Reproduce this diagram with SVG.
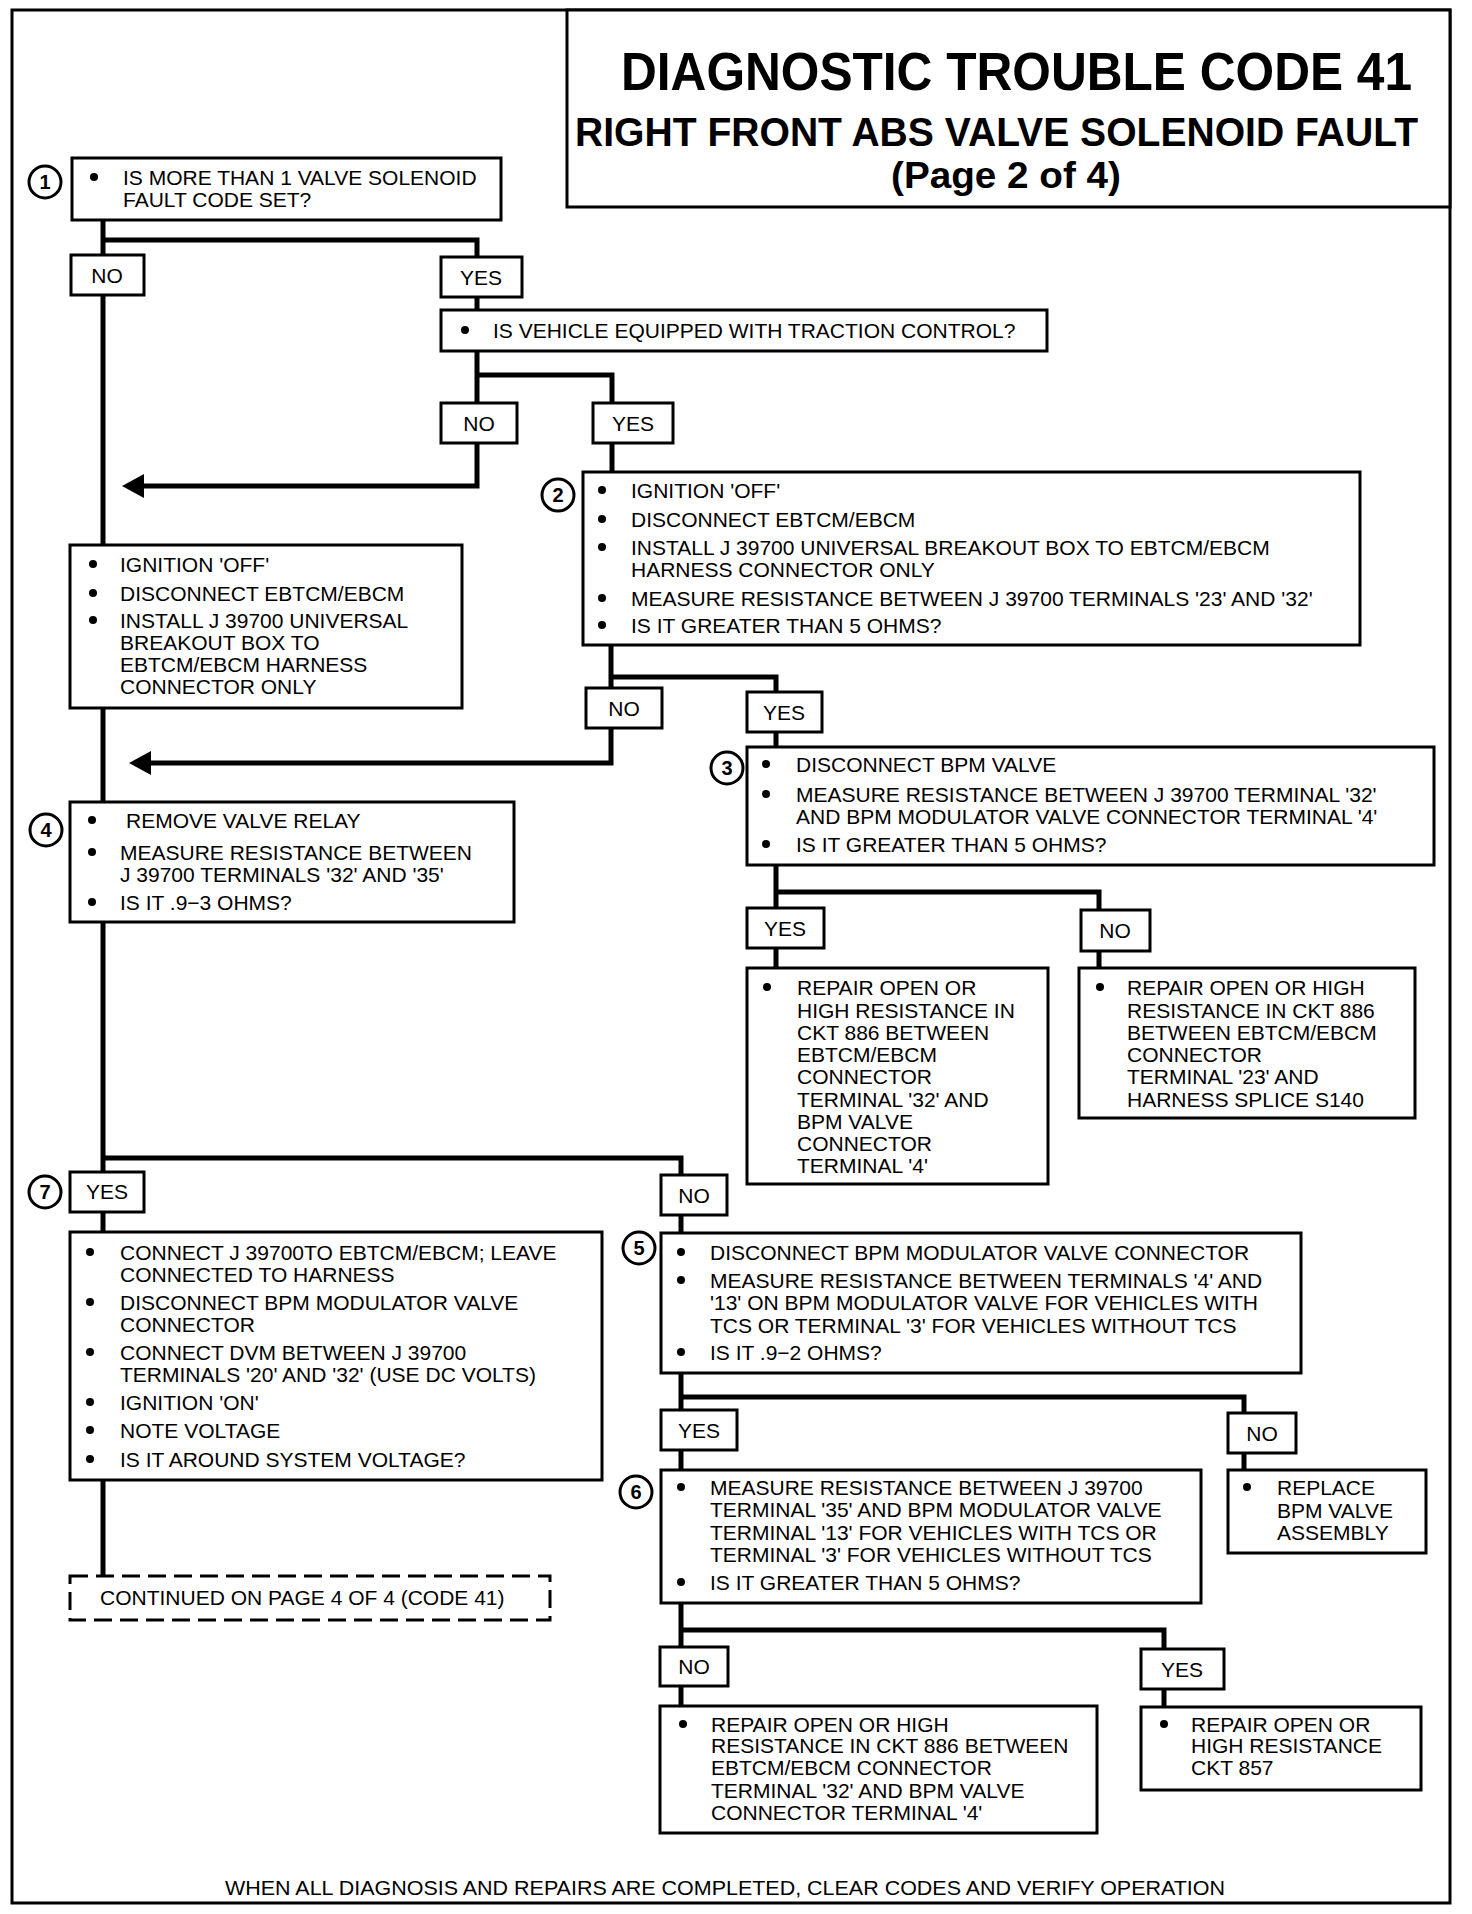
<svg xmlns="http://www.w3.org/2000/svg" width="1472" height="1914" viewBox="0 0 1472 1914">
<style>
text{font-family:"Liberation Sans",Arial,sans-serif;fill:#000}
.t{font-size:21px}
.c{font-size:21px;text-anchor:middle}
.n{font-size:20px;font-weight:bold;text-anchor:middle}
.ttl{font-weight:bold;text-anchor:start}
.box{fill:#fff;stroke:#000;stroke-width:3}
.lbl{fill:#fff;stroke:#000;stroke-width:3}
.cir{fill:#fff;stroke:#000;stroke-width:3}
.dash{fill:#fff;stroke:#000;stroke-width:3;stroke-dasharray:18 8}
.con{fill:none;stroke:#000;stroke-width:5}
.b{fill:#000}
</style>
<defs>
<marker id="arr" viewBox="0 0 22 24" refX="4" refY="12" markerWidth="22" markerHeight="24" markerUnits="userSpaceOnUse" orient="auto">
<path d="M0,0 L22,12 L0,24 Z" fill="#000"/>
</marker>
</defs>
<rect x="0" y="0" width="1472" height="1914" fill="#fff"/>
<g id="frame">
<rect x="12" y="10" width="1438" height="1893" fill="none" stroke="#000" stroke-width="3"/>
</g>
<g id="title">
<rect x="567" y="10" width="883" height="197" fill="#fff" stroke="#000" stroke-width="3"/>
<text class="ttl" x="621" y="90" font-size="54" textLength="791" lengthAdjust="spacingAndGlyphs">DIAGNOSTIC TROUBLE CODE 41</text>
<text class="ttl" x="575" y="146" font-size="40" textLength="843" lengthAdjust="spacingAndGlyphs">RIGHT FRONT ABS VALVE SOLENOID FAULT</text>
<text class="ttl" x="891" y="188" font-size="37" textLength="230" lengthAdjust="spacingAndGlyphs">(Page 2 of 4)</text>
</g>
<g id="connectors">
<path class="con" d="M103,220 V1575"/>
<path class="con" d="M103,240 H477 V310"/>
<path class="con" d="M477,350 V486 H140" marker-end="url(#arr)"/>
<path class="con" d="M477,375 H612 V472"/>
<path class="con" d="M611,645 V763 H147" marker-end="url(#arr)"/>
<path class="con" d="M611,677 H776 V747"/>
<path class="con" d="M776,865 V968"/>
<path class="con" d="M776,892 H1099 V968"/>
<path class="con" d="M103,1158 H681 V1470"/>
<path class="con" d="M681,1397 H1244 V1470"/>
<path class="con" d="M681,1603 V1706"/>
<path class="con" d="M681,1630 H1164 V1707"/>
</g>
<g id="node1">
<circle class="cir" cx="45" cy="182" r="16"/><text class="n" x="45" y="189">1</text>
<rect class="box" x="72" y="158" width="429" height="62"/>
<circle class="b" cx="94" cy="177" r="4"/>
<text class="t" x="123" y="185">IS MORE THAN 1 VALVE SOLENOID</text>
<text class="t" x="123" y="207">FAULT CODE SET?</text>
</g>
<g id="n1-no"><rect class="lbl" x="71" y="255" width="73" height="40"/><text class="c" x="107" y="283">NO</text></g>
<g id="n1-yes"><rect class="lbl" x="441" y="257" width="81" height="40"/><text class="c" x="481" y="285">YES</text></g>
<g id="traction">
<rect class="box" x="441" y="310" width="606" height="41"/>
<circle class="b" cx="465" cy="330" r="4"/>
<text class="t" x="493" y="338">IS VEHICLE EQUIPPED WITH TRACTION CONTROL?</text>
</g>
<g id="tc-no"><rect class="lbl" x="441" y="403" width="76" height="40"/><text class="c" x="479" y="431">NO</text></g>
<g id="tc-yes"><rect class="lbl" x="593" y="403" width="80" height="40"/><text class="c" x="633" y="431">YES</text></g>
<g id="node2">
<circle class="cir" cx="558" cy="495" r="16"/><text class="n" x="558" y="502">2</text>
<rect class="box" x="583" y="472" width="777" height="173"/>
<circle class="b" cx="602" cy="490" r="4"/><text class="t" x="631" y="498">IGNITION 'OFF'</text>
<circle class="b" cx="602" cy="519" r="4"/><text class="t" x="631" y="527">DISCONNECT EBTCM/EBCM</text>
<circle class="b" cx="602" cy="547" r="4"/><text class="t" x="631" y="555">INSTALL J 39700 UNIVERSAL BREAKOUT BOX TO EBTCM/EBCM</text>
<text class="t" x="631" y="577">HARNESS CONNECTOR ONLY</text>
<circle class="b" cx="602" cy="598" r="4"/><text class="t" x="631" y="606">MEASURE RESISTANCE BETWEEN J 39700 TERMINALS '23' AND '32'</text>
<circle class="b" cx="602" cy="625" r="4"/><text class="t" x="631" y="633">IS IT GREATER THAN 5 OHMS?</text>
</g>
<g id="ignition">
<rect class="box" x="70" y="545" width="392" height="163"/>
<circle class="b" cx="93" cy="564" r="4"/><text class="t" x="120" y="572">IGNITION 'OFF'</text>
<circle class="b" cx="93" cy="593" r="4"/><text class="t" x="120" y="601">DISCONNECT EBTCM/EBCM</text>
<circle class="b" cx="93" cy="620" r="4"/><text class="t" x="120" y="628">INSTALL J 39700 UNIVERSAL</text>
<text class="t" x="120" y="650">BREAKOUT BOX TO</text>
<text class="t" x="120" y="672">EBTCM/EBCM HARNESS</text>
<text class="t" x="120" y="694">CONNECTOR ONLY</text>
</g>
<g id="n2-no"><rect class="lbl" x="586" y="688" width="76" height="40"/><text class="c" x="624" y="716">NO</text></g>
<g id="n2-yes"><rect class="lbl" x="747" y="692" width="75" height="40"/><text class="c" x="784" y="720">YES</text></g>
<g id="node3">
<circle class="cir" cx="727" cy="768" r="16"/><text class="n" x="727" y="775">3</text>
<rect class="box" x="747" y="747" width="687" height="118"/>
<circle class="b" cx="766" cy="764" r="4"/><text class="t" x="796" y="772">DISCONNECT BPM  VALVE</text>
<circle class="b" cx="766" cy="794" r="4"/><text class="t" x="796" y="802">MEASURE RESISTANCE  BETWEEN J  39700 TERMINAL  '32'</text>
<text class="t" x="796" y="824">AND BPM MODULATOR VALVE CONNECTOR TERMINAL  '4'</text>
<circle class="b" cx="766" cy="844" r="4"/><text class="t" x="796" y="852">IS IT GREATER THAN 5 OHMS?</text>
</g>
<g id="node4">
<circle class="cir" cx="46" cy="830" r="16"/><text class="n" x="46" y="837">4</text>
<rect class="box" x="70" y="802" width="444" height="120"/>
<circle class="b" cx="92" cy="820" r="4"/><text class="t" x="126" y="828">REMOVE VALVE RELAY</text>
<circle class="b" cx="92" cy="852" r="4"/><text class="t" x="120" y="860">MEASURE  RESISTANCE  BETWEEN</text>
<text class="t" x="120" y="882">J  39700 TERMINALS '32' AND '35'</text>
<circle class="b" cx="92" cy="902" r="4"/><text class="t" x="120" y="910">IS IT .9−3 OHMS?</text>
</g>
<g id="n3-yes"><rect class="lbl" x="747" y="908" width="77" height="40"/><text class="c" x="785" y="936">YES</text></g>
<g id="n3-no"><rect class="lbl" x="1081" y="910" width="69" height="41"/><text class="c" x="1115" y="938">NO</text></g>
<g id="repair-886-bpm">
<rect class="box" x="747" y="968" width="301" height="216"/>
<circle class="b" cx="767" cy="987" r="4"/>
<text class="t" x="797" y="995">REPAIR OPEN OR</text>
<text class="t" x="797" y="1018">HIGH RESISTANCE IN</text>
<text class="t" x="797" y="1040">CKT 886 BETWEEN</text>
<text class="t" x="797" y="1062">EBTCM/EBCM</text>
<text class="t" x="797" y="1084">CONNECTOR</text>
<text class="t" x="797" y="1107">TERMINAL  '32' AND</text>
<text class="t" x="797" y="1129">BPM  VALVE</text>
<text class="t" x="797" y="1151">CONNECTOR</text>
<text class="t" x="797" y="1173">TERMINAL '4'</text>
</g>
<g id="repair-886-splice">
<rect class="box" x="1079" y="968" width="336" height="150"/>
<circle class="b" cx="1100" cy="987" r="4"/>
<text class="t" x="1127" y="995">REPAIR OPEN OR HIGH</text>
<text class="t" x="1127" y="1018">RESISTANCE IN CKT  886</text>
<text class="t" x="1127" y="1040">BETWEEN EBTCM/EBCM</text>
<text class="t" x="1127" y="1062">CONNECTOR</text>
<text class="t" x="1127" y="1084">TERMINAL  '23' AND</text>
<text class="t" x="1127" y="1107">HARNESS SPLICE  S140</text>
</g>
<g id="n4-yes">
<circle class="cir" cx="45" cy="1192" r="16"/><text class="n" x="45" y="1199">7</text>
<rect class="lbl" x="70" y="1172" width="74" height="40"/><text class="c" x="107" y="1199">YES</text>
</g>
<g id="n4-no"><rect class="lbl" x="661" y="1175" width="66" height="40"/><text class="c" x="694" y="1203">NO</text></g>
<g id="node7">
<rect class="box" x="70" y="1232" width="532" height="248"/>
<circle class="b" cx="90" cy="1252" r="4"/><text class="t" x="120" y="1260">CONNECT J  39700TO EBTCM/EBCM; LEAVE</text>
<text class="t" x="120" y="1282">CONNECTED TO HARNESS</text>
<circle class="b" cx="90" cy="1302" r="4"/><text class="t" x="120" y="1310">DISCONNECT BPM MODULATOR VALVE</text>
<text class="t" x="120" y="1332">CONNECTOR</text>
<circle class="b" cx="90" cy="1352" r="4"/><text class="t" x="120" y="1360">CONNECT DVM BETWEEN J  39700</text>
<text class="t" x="120" y="1382">TERMINALS '20' AND '32' (USE DC VOLTS)</text>
<circle class="b" cx="90" cy="1402" r="4"/><text class="t" x="120" y="1410">IGNITION 'ON'</text>
<circle class="b" cx="90" cy="1430" r="4"/><text class="t" x="120" y="1438">NOTE VOLTAGE</text>
<circle class="b" cx="90" cy="1459" r="4"/><text class="t" x="120" y="1467">IS IT AROUND SYSTEM VOLTAGE?</text>
</g>
<g id="continued">
<rect class="dash" x="70" y="1576" width="480" height="44"/>
<text class="t" x="100" y="1605">CONTINUED ON PAGE 4 OF 4 (CODE 41)</text>
</g>
<g id="node5">
<circle class="cir" cx="639" cy="1248" r="16"/><text class="n" x="639" y="1255">5</text>
<rect class="box" x="661" y="1233" width="640" height="140"/>
<circle class="b" cx="681" cy="1252" r="4"/><text class="t" x="710" y="1260">DISCONNECT BPM MODULATOR VALVE CONNECTOR</text>
<circle class="b" cx="681" cy="1280" r="4"/><text class="t" x="710" y="1288">MEASURE RESISTANCE BETWEEN TERMINALS  '4' AND</text>
<text class="t" x="710" y="1310">'13' ON BPM MODULATOR VALVE FOR VEHICLES WITH</text>
<text class="t" x="710" y="1333">TCS OR TERMINAL '3' FOR VEHICLES WITHOUT TCS</text>
<circle class="b" cx="681" cy="1352" r="4"/><text class="t" x="710" y="1360">IS IT .9−2  OHMS?</text>
</g>
<g id="n5-yes"><rect class="lbl" x="661" y="1410" width="76" height="40"/><text class="c" x="699" y="1438">YES</text></g>
<g id="n5-no"><rect class="lbl" x="1228" y="1413" width="68" height="40"/><text class="c" x="1262" y="1441">NO</text></g>
<g id="node6">
<circle class="cir" cx="636" cy="1492" r="16"/><text class="n" x="636" y="1499">6</text>
<rect class="box" x="661" y="1470" width="540" height="133"/>
<circle class="b" cx="681" cy="1487" r="4"/><text class="t" x="710" y="1495">MEASURE RESISTANCE BETWEEN J  39700</text>
<text class="t" x="710" y="1517">TERMINAL  '35' AND BPM MODULATOR VALVE</text>
<text class="t" x="710" y="1540">TERMINAL  '13' FOR VEHICLES WITH TCS OR</text>
<text class="t" x="710" y="1562">TERMINAL '3' FOR VEHICLES WITHOUT TCS</text>
<circle class="b" cx="681" cy="1582" r="4"/><text class="t" x="710" y="1590">IS IT GREATER THAN 5  OHMS?</text>
</g>
<g id="replace-bpm">
<rect class="box" x="1228" y="1470" width="198" height="83"/>
<circle class="b" cx="1247" cy="1487" r="4"/>
<text class="t" x="1277" y="1495">REPLACE</text>
<text class="t" x="1277" y="1518">BPM VALVE</text>
<text class="t" x="1277" y="1540">ASSEMBLY</text>
</g>
<g id="n6-no"><rect class="lbl" x="660" y="1647" width="68" height="39"/><text class="c" x="694" y="1674">NO</text></g>
<g id="n6-yes"><rect class="lbl" x="1141" y="1649" width="83" height="40"/><text class="c" x="1182" y="1677">YES</text></g>
<g id="repair-886-conn">
<rect class="box" x="660" y="1706" width="437" height="127"/>
<circle class="b" cx="683" cy="1724" r="4"/>
<text class="t" x="711" y="1732">REPAIR OPEN OR HIGH</text>
<text class="t" x="711" y="1753">RESISTANCE IN CKT 886 BETWEEN</text>
<text class="t" x="711" y="1775">EBTCM/EBCM CONNECTOR</text>
<text class="t" x="711" y="1798">TERMINAL  '32' AND BPM VALVE</text>
<text class="t" x="711" y="1820">CONNECTOR TERMINAL  '4'</text>
</g>
<g id="repair-857">
<rect class="box" x="1141" y="1707" width="280" height="83"/>
<circle class="b" cx="1164" cy="1724" r="4"/>
<text class="t" x="1191" y="1732">REPAIR OPEN OR</text>
<text class="t" x="1191" y="1753">HIGH RESISTANCE</text>
<text class="t" x="1191" y="1775">CKT 857</text>
</g>
<g id="footer">
<text class="t" x="225" y="1895" textLength="1000" lengthAdjust="spacingAndGlyphs">WHEN ALL DIAGNOSIS AND REPAIRS ARE COMPLETED, CLEAR CODES AND VERIFY OPERATION</text>
</g>
</svg>
